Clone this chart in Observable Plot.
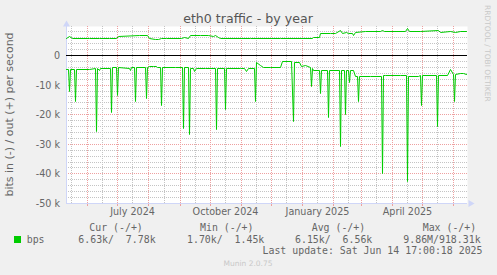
<!DOCTYPE html>
<html><head><meta charset="utf-8">
<script src="https://cdn.jsdelivr.net/npm/d3@7"></script>
<script src="https://cdn.jsdelivr.net/npm/@observablehq/plot@0.6"></script>
<style>
html,body{margin:0;padding:0;background:#f0f0f0;}
#chart{width:497px;height:275px;overflow:hidden;}
svg text{white-space:pre;}
</style></head><body><div id="chart"></div>
<script>
// ---- data (kbit/s) ----
const outDates = ["2024-05-11","2024-05-14","2024-05-17","2024-06-03","2024-06-13","2024-06-23","2024-06-30","2024-07-02","2024-07-23","2024-07-31",
"2024-08-02","2024-08-07","2024-08-10","2024-08-13","2024-08-18","2024-09-02","2024-09-05","2024-09-09","2024-09-11","2024-09-21",
"2024-09-29","2024-10-04","2024-10-06","2024-10-09","2024-10-11","2024-11-10","2024-12-10","2025-01-11","2025-01-12","2025-01-18",
"2025-01-19","2025-01-29","2025-02-03","2025-02-08","2025-02-10","2025-02-14","2025-02-16","2025-02-20","2025-02-21","2025-02-23",
"2025-03-05","2025-03-20","2025-03-22","2025-03-24","2025-04-14","2025-04-16","2025-04-18","2025-04-29","2025-05-17","2025-05-19",
"2025-05-29","2025-06-03","2025-06-08","2025-06-14"];
const outValues = [5.9,6.3,5.8,5.7,5.8,5.7,5.8,6.5,6.6,6.6,
5.8,5.5,5.3,5.6,5.7,5.8,6.2,5.9,6.8,6.9,
6.7,6.4,6.9,6.2,5.7,5.7,5.7,5.7,6.2,6.2,
7.5,7.5,7.3,8.6,7.5,7.8,7.4,7.6,6.8,7.9,
8.0,8.0,8.6,8.0,8.0,9.0,8.1,8.0,8.3,7.9,
8.0,7.9,8.1,8.0];

const inDates = ["2024-05-11","2024-05-13","2024-05-14","2024-05-15","2024-05-19","2024-05-20","2024-05-21","2024-06-03","2024-06-09","2024-06-10",
"2024-06-11","2024-06-13","2024-06-14","2024-06-24","2024-06-25","2024-06-26","2024-06-30","2024-07-01","2024-07-02","2024-07-13",
"2024-07-14","2024-07-15","2024-07-18","2024-07-19","2024-07-20","2024-07-29","2024-07-30","2024-07-31","2024-08-02","2024-08-05",
"2024-08-08","2024-08-09","2024-08-12","2024-08-13","2024-08-14","2024-08-27","2024-09-03","2024-09-04","2024-09-05","2024-09-09",
"2024-09-10","2024-09-11","2024-09-14","2024-09-15","2024-09-17","2024-09-26","2024-10-06","2024-10-07","2024-10-08","2024-10-15",
"2024-10-16","2024-10-17","2024-10-31","2024-11-04","2024-11-06","2024-11-08","2024-11-14","2024-11-15","2024-11-16","2024-11-20",
"2024-11-23","2024-11-30","2024-12-10","2024-12-12","2024-12-21","2024-12-23","2024-12-24","2024-12-29","2024-12-31","2025-01-04",
"2025-01-09","2025-01-10","2025-01-11","2025-01-12","2025-01-18","2025-01-19","2025-01-20","2025-01-26","2025-01-27","2025-01-28",
"2025-02-07","2025-02-08","2025-02-09","2025-02-12","2025-02-13","2025-02-14","2025-02-16","2025-02-17","2025-02-18","2025-02-21",
"2025-02-23","2025-02-25","2025-02-26","2025-02-27","2025-03-10","2025-03-21","2025-03-22","2025-03-23","2025-03-25","2025-04-09",
"2025-04-15","2025-04-16","2025-04-17","2025-04-27","2025-04-29","2025-04-30","2025-05-01","2025-05-15","2025-05-16","2025-05-17",
"2025-05-26","2025-05-29","2025-06-01","2025-06-02","2025-06-03","2025-06-08","2025-06-11","2025-06-14"];
const inValues = [4.6,4.7,12.0,4.7,4.7,15.7,4.6,4.6,4.5,25.8,
4.5,5.2,4.5,4.5,19.4,4.0,4.0,13.6,4.2,4.3,
5.2,4.2,4.2,15.7,4.2,4.2,14.5,4.1,3.8,3.6,
3.8,4.0,4.0,17.0,4.1,4.2,4.2,24.8,4.2,4.2,
26.7,4.3,4.5,5.5,4.4,4.4,4.4,25.1,4.3,4.3,
18.4,4.3,4.3,4.4,5.3,4.3,4.3,15.7,2.4,3.3,
4.1,4.0,4.0,2.0,2.1,22.4,2.2,2.3,3.8,3.5,
4.0,10.6,4.3,4.9,4.9,13.0,4.9,4.9,21.1,4.9,
4.9,30.9,4.9,4.9,19.9,4.9,4.9,9.1,4.9,4.9,
7.0,7.2,15.7,7.0,7.2,7.2,39.9,6.8,6.6,6.6,
6.6,42.5,7.0,7.0,6.9,16.8,6.6,6.6,24.1,6.6,
6.6,4.7,6.4,15.4,6.3,6.2,6.0,6.3];

// ---- ticks / labels ----
const yTicks = [0,-10,-20,-30,-40,-50];
const xLabelDates = ["2024-07-16","2024-10-16","2025-01-16","2025-04-16"];
const xLabels = ["July 2024","October 2024","January 2025","April 2025"];
const titleText = "eth0 traffic - by year";
const yTitle = "bits in (-) / out (+) per second";
const legendHeaders = ["Cur (-/+)","Min (-/+)","Avg (-/+)","Max (-/+)"];
const legendValues = ["6.63k/  7.78k","1.70k/  1.45k","6.15k/  6.56k","9.86M/918.31k"];
const seriesName = "bps";
const lastUpdate = "Last update: Sat Jun 14 17:00:18 2025";
const footer = "Munin 2.0.75";
const watermark = "RRDTOOL / TOBI OETIKER";

// ---- build ----
const xStart = new Date("2024-05-10T17:00:00Z"), xEnd = new Date("2025-06-14T17:00:00Z");
const yMin = -50, yMax = 9.8;
const outData = outDates.map((d,i)=>({date:new Date(d), v:outValues[i]}));
const inData = inDates.map((d,i)=>({date:new Date(d), v:-inValues[i]}));
const monthStarts = d3.utcMonth.range(new Date("2024-05-11"), new Date("2025-06-15"));
const midMonths = d3.utcMonth.range(new Date("2024-05-01"), new Date("2025-06-01")).map(d=>d3.utcDay.offset(d,15)).filter(d=>d>xStart && d<xEnd);
const minorY = d3.range(-48, 9, 2).filter(v=>v%10!==0);
const majorY = [-10,-20,-30,-40];
const labelMap = new Map(xLabelDates.map((d,i)=>[+new Date(d), xLabels[i]]));
const AXIS = "#CFD6F8", MAJOR = "#eea0a0", MINOR = "#c4c4c4", GREEN = "#00cc00";

const svg = Plot.plot({
  width: 497, height: 275,
  marginLeft: 66, marginRight: 30, marginTop: 26, marginBottom: 72,
  style: {fontFamily: "DejaVu Sans", fontSize: "9.6px", color: "#666", background: "#f0f0f0", overflow: "visible"},
  x: {type: "utc", domain: [xStart, xEnd], round: true, label: null},
  y: {domain: [yMin, yMax], round: true, label: null},
  marks: [
    Plot.frame({fill: "white", stroke: "none"}),
    Plot.gridY(minorY, {stroke: MINOR, strokeOpacity: 1, strokeDasharray: "1,1"}),
    Plot.gridX(midMonths, {stroke: MINOR, strokeOpacity: 1, strokeDasharray: "1,1"}),
    Plot.gridY(majorY, {stroke: MAJOR, strokeOpacity: 1, strokeDasharray: "1,1"}),
    Plot.gridX(monthStarts, {stroke: MAJOR, strokeOpacity: 1, strokeDasharray: "1,1"}),
    Plot.axisX(monthStarts, {tickSize: 3, stroke: MAJOR, tickFormat: () => "", tickPadding: 0, label: null}),
    Plot.axisX(xLabelDates.map(d=>new Date(d)), {tickSize: 0, tickPadding: 5, tickFormat: d => labelMap.get(+d), fontSize: 9.6, fill: "#666", label: null}),
    Plot.axisY(yTicks, {tickSize: 0, tickPadding: 6.5, tickFormat: d => d === 0 ? "0" : `${d} k`, fontSize: 9.6, fill: "#666", label: null}),
    Plot.ruleY([yMin], {stroke: AXIS}),
    Plot.ruleX([xStart], {stroke: AXIS}),
    Plot.dot([xEnd], {x: d=>d, y: () => yMin, symbol: "triangle", rotate: 90, r: 2.6, dx: 3, fill: AXIS, stroke: "none"}),
    Plot.dot([xStart], {x: d=>d, y: () => yMax, symbol: "triangle", r: 2.6, dy: -2, fill: AXIS, stroke: "none"}),
    Plot.ruleY([0], {stroke: "black"}),
    Plot.line(inData, {x: "date", y: "v", stroke: GREEN, strokeWidth: 1}),
    Plot.line(outData, {x: "date", y: "v", stroke: GREEN, strokeWidth: 1})
  ]
});

const s = d3.select(svg);
s.append("text").attr("x", 248).attr("y", 22.5).attr("text-anchor","middle")
  .style("font-family","DejaVu Sans").style("font-size","12.6px").attr("fill","#555").text(titleText);
s.append("text").attr("transform","translate(13,114.5) rotate(-90)").attr("text-anchor","middle")
  .style("font-family","DejaVu Sans").style("font-size","11px").attr("fill","#666").text(yTitle);
s.append("text").attr("transform","translate(485,5) rotate(90)").attr("text-anchor","start")
  .style("font-family","DejaVu Sans").style("font-size","7.5px").attr("fill","#c8c8c8").text(watermark);
const mono = sel => sel.attr("text-anchor","start").style("font-family","DejaVu Sans Mono").style("font-size","9.9px").attr("fill","#666");
const headX = [89.3, 200, 311.7, 422.7];
const valX = [78.3, 187, 295, 403.3];
legendHeaders.forEach((h,i)=> mono(s.append("text").attr("x", headX[i]).attr("y", 231)).text(h));
legendValues.forEach((v,i)=> mono(s.append("text").attr("x", valX[i]).attr("y", 243)).text(v));
s.append("rect").attr("x",14).attr("y",236).attr("width",7).attr("height",7).attr("fill",GREEN);
mono(s.append("text").attr("x", 26.7).attr("y", 243)).text(seriesName);
mono(s.append("text").attr("x", 482.5).attr("y", 254)).attr("text-anchor","end").text(lastUpdate);
s.append("text").attr("x", 248).attr("y", 266).attr("text-anchor","middle")
  .style("font-family","DejaVu Sans").style("font-size","7.5px").attr("fill","#c8c8c8").text(footer);

document.getElementById("chart").appendChild(svg);
</script></body></html>
